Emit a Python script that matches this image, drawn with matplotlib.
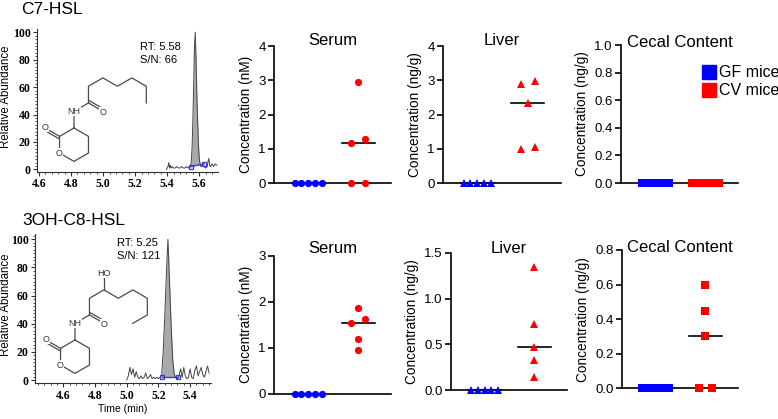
import numpy as np
import matplotlib
matplotlib.use("Agg")
import matplotlib.pyplot as plt
from matplotlib.lines import Line2D
from matplotlib.patches import Patch
from matplotlib.ticker import MultipleLocator, FormatStrFormatter

plt.rcParams['font.family'] = ['Liberation Sans', 'DejaVu Sans']

W, H = 778, 419
BLUE = '#0000ff'
RED = '#ff0000'

# ---- chromatogram traces (time in min, relative abundance in %) ----
t_c7 = [5.395, 5.405, 5.410, 5.415, 5.420, 5.425, 5.430, 5.440, 5.450, 5.460,
        5.470, 5.480, 5.490, 5.500, 5.510, 5.520, 5.530, 5.540, 5.545, 5.550,
        5.555, 5.560, 5.565, 5.570, 5.575, 5.580, 5.585, 5.590, 5.595, 5.600,
        5.605, 5.610, 5.620, 5.630, 5.640, 5.650, 5.655, 5.660, 5.665, 5.670,
        5.680, 5.690, 5.700, 5.710]
a_c7 = [0, 2, 5, 1, 3, 1, 2, 1, 1, 2,
        1, 1, 2, 1, 1, 2, 1, 2, 2, 5,
        15, 35, 60, 90, 100, 80, 55, 35, 18, 8,
        4, 2, 3, 2, 1, 2, 6, 8, 3, 2,
        4, 2, 4, 3]
base_c7 = [(5.546, 2), (5.630, 4)]

t_c8 = [5.00, 5.01, 5.02, 5.03, 5.04, 5.05, 5.06, 5.07, 5.08, 5.09,
        5.10, 5.11, 5.12, 5.13, 5.14, 5.15, 5.16, 5.17, 5.18, 5.19,
        5.20, 5.21, 5.22, 5.23, 5.24, 5.25, 5.26, 5.27, 5.28, 5.29,
        5.30, 5.31, 5.32, 5.33, 5.34, 5.35, 5.36, 5.37, 5.38, 5.39,
        5.40, 5.41, 5.42, 5.43, 5.44, 5.45, 5.46, 5.47, 5.48, 5.49,
        5.50, 5.51, 5.52]
a_c8 = [0, 3, 9, 4, 8, 2, 6, 2, 1, 3,
        1, 2, 5, 1, 2, 4, 1, 2, 1, 2,
        1, 2, 3, 20, 45, 75, 100, 70, 40, 15,
        4, 2, 1, 3, 8, 2, 9, 3, 1, 2,
        8, 2, 1, 7, 10, 3, 6, 9, 4, 2,
        6, 10, 5]
base_c8 = [(5.225, 2), (5.325, 2)]

# ---- concentrations ----
groups = ['GF mice', 'CV mice']
c7_serum_gf = [0, 0, 0, 0, 0]
c7_serum_cv = [2.95, 1.18, 1.28, 0, 0]
c7_liver_gf = [0, 0, 0, 0, 0]
c7_liver_cv = [2.97, 2.88, 2.35, 0.98, 1.04]
c7_cecal_gf = [0, 0, 0, 0, 0]
c7_cecal_cv = [0, 0, 0, 0, 0]

c8_serum_gf = [0, 0, 0, 0, 0]
c8_serum_cv = [1.87, 1.62, 1.53, 1.18, 0.94]
c8_liver_gf = [0, 0, 0, 0, 0]
c8_liver_cv = [1.34, 0.72, 0.47, 0.33, 0.15]
c8_cecal_gf = [0, 0, 0, 0, 0]
c8_cecal_cv = [0.60, 0.45, 0.30, 0, 0]

fig = plt.figure(figsize=(W / 100, H / 100), dpi=100)


def px_axes(x0, y0, x1, y1):
    return fig.add_axes([x0 / W, 1 - y1 / H, (x1 - x0) / W, (y1 - y0) / H])


def ftext(x, y, s, **kw):
    return fig.text(x / W, 1 - y / H, s, **kw)


def chrom(rect, t, a, base, xlim, ylim, xticks, rt, sn, rt_xy, xlabel=None):
    ax = px_axes(*rect)
    t = np.array(t)
    a = np.array(a, float)
    (b0, y0), (b1, y1) = base
    bl = y0 + (t - b0) * (y1 - y0) / (b1 - b0)
    m = (t >= b0) & (t <= b1)
    ax.fill_between(t, bl, a, where=m, color='#a9a9a9', lw=0, interpolate=True)
    ax.plot(t, a, color='#444444', lw=0.7)
    ax.plot([b0, b1], [y0, y1], color='#3a3ad0', lw=1.0, marker='s',
            ms=3, mfc='none', mec='#3a3ad0', mew=0.9)
    ax.set_xlim(*xlim)
    ax.set_ylim(*ylim)
    for s in ['top', 'right']:
        ax.spines[s].set_visible(False)
    for s in ['left', 'bottom']:
        ax.spines[s].set_linewidth(0.8)
        ax.spines[s].set_color('#333333')
    ax.set_xticks(xticks, labels=['%.1f' % v for v in xticks],
                  fontfamily='Liberation Serif', fontweight='bold', fontsize=8.5)
    yt = [0, 20, 40, 60, 80, 100]
    ax.set_yticks(yt, labels=[str(v) for v in yt],
                  fontfamily='Liberation Serif', fontweight='bold', fontsize=8.5)
    ax.xaxis.set_minor_locator(MultipleLocator(0.04))
    ax.yaxis.set_minor_locator(MultipleLocator(2.5))
    ax.tick_params(which='major', length=3, width=0.8, pad=1.5, color='#333333')
    ax.tick_params(which='minor', length=1.6, width=0.6, color='#333333')
    ftext(rt_xy[0], rt_xy[1], 'RT: %s' % rt, fontsize=8, va='top')
    ftext(rt_xy[0], rt_xy[1] + 13, 'S/N: %s' % sn, fontsize=8, va='top')
    if xlabel:
        ax.set_xlabel(xlabel, fontsize=7.5, labelpad=2)
    return ax


def draw_mol(x0, y0, chain, extra, L=16.7):
    def P(p):
        return (x0 + p[0] * L) / W, 1 - (y0 - p[1] * L) / H

    def seg(pts):
        xs, ys = zip(*[P(p) for p in pts])
        fig.add_artist(Line2D(xs, ys, transform=fig.transFigure,
                              color='#4a4a4a', lw=0.9))

    def dbl(p, q):
        dx, dy = q[0] - p[0], q[1] - p[1]
        n = np.hypot(dx, dy)
        ox, oy = -dy / n * 0.14, dx / n * 0.14
        seg([p, q])
        seg([(p[0] + ox, p[1] + oy), (q[0] + ox, q[1] + oy)])

    ring = [(0, 0), (0.866, -0.5), (0.866, -1.5), (0, -2), (-0.866, -1.5),
            (-0.866, -0.5), (0, 0)]
    seg(ring)
    dbl((-0.866, -0.5), (-1.732, 0.0))
    seg([(0, 0), (0, 1), (0.866, 1.5)])
    dbl((0.866, 1.5), (1.732, 1.0))
    seg(chain)
    labels = [((-0.866, -1.5), 'O'), ((-1.732, 0.05), 'O'),
              ((0, 1), 'NH'), ((1.75, 0.95), 'O')]
    for pts, lab in extra:
        seg(pts)
        labels.append((pts[-1], lab))
    for p, lab in labels:
        x, y = P(p)
        fig.text(x, y, lab, fontsize=6.5, ha='center', va='center', color='#333333',
                 bbox=dict(facecolor='white', edgecolor='none', pad=0.3))


def swarm(vals, ymax, spacing=0.135, tol=0.045):
    vals = np.asarray(vals, float)
    order = np.argsort(vals, kind='stable')
    offs = np.zeros(len(vals))
    grps, cur = [], [order[0]]
    for i in order[1:]:
        if (vals[i] - vals[cur[-1]]) / ymax < tol:
            cur.append(i)
        else:
            grps.append(cur)
            cur = [i]
    grps.append(cur)
    for g in grps:
        n = len(g)
        for j, idx in enumerate(g):
            k = j - (n - 1) / 2
            if n % 2 == 0:
                k = np.sign(k) * (abs(k) + 0.5)
            offs[idx] = k * spacing
    return offs


def dotplot(rect, gf, cv, ymax, step, fmt, marker, ms, ylabel, title, toff):
    ax = px_axes(*rect)
    for i, (vals, col) in enumerate([(gf, BLUE), (cv, RED)]):
        x = i + swarm(vals, ymax)
        ax.plot(x, vals, ls='none', marker=marker, ms=ms, color=col, mew=0,
                clip_on=False, zorder=4)
        med = np.median(vals)
        ax.plot([i - 0.33, i + 0.33], [med, med], color='black', lw=1.2,
                zorder=3, clip_on=False)
    ax.set_xlim(-0.68, 1.66)
    ax.set_ylim(0, ymax)
    ax.set_xticks([])
    ax.set_yticks(np.arange(0, ymax + step / 2, step))
    ax.yaxis.set_major_formatter(FormatStrFormatter(fmt))
    for s in ['top', 'right']:
        ax.spines[s].set_visible(False)
    for s in ['left', 'bottom']:
        ax.spines[s].set_linewidth(1.2)
    ax.tick_params(axis='y', length=4.5, width=1.2, labelsize=9.5, pad=1.5)
    ax.set_ylabel(ylabel, fontsize=9.8, labelpad=4)
    ax.text(0.5, 1 + toff, title, transform=ax.transAxes, ha='center',
            va='baseline', fontsize=12)
    return ax


# ---- row 1: C7-HSL ----
ftext(21, 10, 'C7-HSL', fontsize=12.5, va='center')
chrom((37, 29, 218, 171.7), t_c7, a_c7, base_c7, (4.5875, 5.717), (-1.7, 102.4),
      [4.6, 4.8, 5.0, 5.2, 5.4, 5.6], '5.58', '66', (140, 42))
ftext(6, 97, 'Relative Abundance', fontsize=8.3, rotation=90, ha='center', va='center')
draw_mol(74, 128,
         [(0.866, 1.5), (0.866, 2.5), (1.732, 3.0), (2.598, 2.5), (3.464, 3.0),
          (4.33, 2.5), (4.33, 1.5)], [])

dotplot((274, 46, 391, 183), c7_serum_gf, c7_serum_cv, 4, 1, '%d', 'o', 5.2,
        'Concentration (nM)', 'Serum', 0.01)
dotplot((443, 46, 561, 183), c7_liver_gf, c7_liver_cv, 4, 1, '%d', '^', 5.6,
        'Concentration (ng/g)', 'Liver', 0.01)
axc = dotplot((621, 45, 738, 183), c7_cecal_gf, c7_cecal_cv, 1.0, 0.2, '%.1f', 's', 5.8,
              'Concentration (ng/g)', 'Cecal Content', -0.015)
axc.legend(handles=[Patch(color=BLUE), Patch(color=RED)], labels=groups,
           loc='upper left', bbox_to_anchor=(702 / W, 1 - 65 / H),
           bbox_transform=fig.transFigure, frameon=False, fontsize=11.5,
           handlelength=0.85, handleheight=0.95, handletextpad=0.2,
           labelspacing=0.15, borderpad=0, borderaxespad=0)

# ---- row 2: 3OH-C8-HSL ----
ftext(22, 220, '3OH-C8-HSL', fontsize=12.5, va='center')
chrom((35, 234, 210.7, 383.3), t_c8, a_c8, base_c8, (4.421, 5.53), (-2.3, 103.8),
      [4.6, 4.8, 5.0, 5.2, 5.4], '5.25', '121', (117, 238), xlabel='Time (min)')
ftext(6, 305, 'Relative Abundance', fontsize=8.3, rotation=90, ha='center', va='center')
draw_mol(75, 340,
         [(0.866, 1.5), (0.866, 2.5), (1.732, 3.0), (2.598, 2.5), (3.464, 3.0),
          (4.33, 2.5), (4.33, 1.5), (3.464, 1.0)],
         [([(1.732, 3.0), (1.732, 4.0)], 'HO')])

dotplot((274, 255.7, 391, 393.7), c8_serum_gf, c8_serum_cv, 3, 1, '%d', 'o', 5.2,
        'Concentration (nM)', 'Serum', 0.017)
dotplot((451, 252.7, 567, 390.3), c8_liver_gf, c8_liver_cv, 1.5, 0.5, '%.1f', '^', 5.6,
        'Concentration (ng/g)', 'Liver', 0.0)
dotplot((622, 250, 738, 388.3), c8_cecal_gf, c8_cecal_cv, 0.8, 0.2, '%.1f', 's', 5.8,
        'Concentration (ng/g)', 'Cecal Content', -0.012)

fig.savefig('out.png', dpi=100)
